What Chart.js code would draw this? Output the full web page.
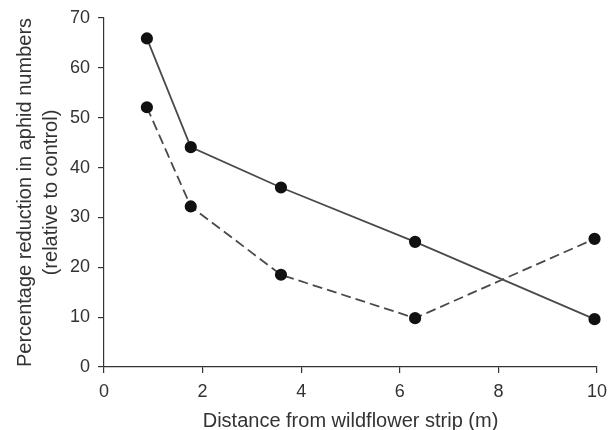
<!DOCTYPE html>
<html>
<head>
<meta charset="utf-8">
<script src="https://cdn.jsdelivr.net/npm/chart.js@4/dist/chart.umd.min.js"></script>
<style>
    html, body { margin: 0; padding: 0; background: #fff; }
    #chart { display: block; }
</style>
</head>
<body>
<canvas id="chart" width="608" height="430"></canvas>
<script>
const distances = [0.87, 1.76, 3.59, 6.31, 9.95];
const solidValues = [65.9, 44.1, 36.0, 25.1, 9.6];
const dashedValues = [52.1, 32.2, 18.5, 9.8, 25.7];
const xTicks = [0, 2, 4, 6, 8, 10];
const yTicks = [0, 10, 20, 30, 40, 50, 60, 70];

const inkColor = "#333333";
const fontFamily = "'Liberation Sans', Arial, sans-serif";

function toPoints(values) {
    return distances.map((x, i) => ({ x, y: values[i] }));
}

const ctx = document.getElementById("chart").getContext("2d");

new Chart(ctx, {
    type: "scatter",
    data: {
        datasets: [
            {
                label: "solid",
                data: toPoints(solidValues),
                showLine: true,
                clip: false,
                borderColor: "#4a4a4a",
                borderWidth: 1.8,
                pointBackgroundColor: "#111111",
                pointBorderColor: "#111111",
                pointRadius: 5.2,
            },
            {
                label: "dashed",
                data: toPoints(dashedValues),
                showLine: true,
                clip: false,
                borderColor: "#4a4a4a",
                borderWidth: 1.8,
                borderDash: [10, 5],
                pointBackgroundColor: "#111111",
                pointBorderColor: "#111111",
                pointRadius: 5.2,
            },
        ],
    },
    options: {
        responsive: false,
        animation: false,
        layout: {
            padding: { top: 18, right: 0, bottom: 0, left: 0 },
        },
        plugins: {
            legend: { display: false },
            tooltip: { enabled: false },
        },
        scales: {
            x: {
                type: "linear",
                min: 0,
                max: 10,
                afterBuildTicks: (scale) => {
                    scale.ticks = xTicks.map((value) => ({ value }));
                },
                afterFit: (scale) => {
                    scale.height = 63;
                    scale.paddingLeft = 0;
                    scale.paddingRight = 11;
                },
                grid: {
                    drawOnChartArea: false,
                    color: inkColor,
                    tickLength: 6,
                    lineWidth: 1.2,
                },
                border: { color: inkColor, width: 1.2 },
                ticks: {
                    color: inkColor,
                    padding: 8,
                    maxRotation: 0,
                    font: { family: fontFamily, size: 18 },
                },
                title: {
                    display: true,
                    text: "Distance from wildflower strip (m)",
                    color: inkColor,
                    padding: { top: 0, bottom: -3 },
                    font: { family: fontFamily, size: 20 },
                },
            },
            y: {
                type: "linear",
                min: 0,
                max: 70,
                afterBuildTicks: (scale) => {
                    scale.ticks = yTicks.map((value) => ({ value }));
                },
                afterFit: (scale) => {
                    scale.width = 104;
                    scale.paddingTop = 0;
                    scale.paddingBottom = 0;
                },
                grid: {
                    drawOnChartArea: false,
                    color: inkColor,
                    tickLength: 6,
                    lineWidth: 1.2,
                },
                border: { color: inkColor, width: 1.2 },
                ticks: {
                    color: inkColor,
                    padding: 8,
                    font: { family: fontFamily, size: 18 },
                },
                title: {
                    display: true,
                    text: ["Percentage reduction in aphid numbers", "(relative to control)"],
                    color: inkColor,
                    padding: { top: 12, bottom: 0 },
                    font: { family: fontFamily, size: 20, lineHeight: 1.3 },
                },
            },
        },
    },
});
</script>
</body>
</html>
